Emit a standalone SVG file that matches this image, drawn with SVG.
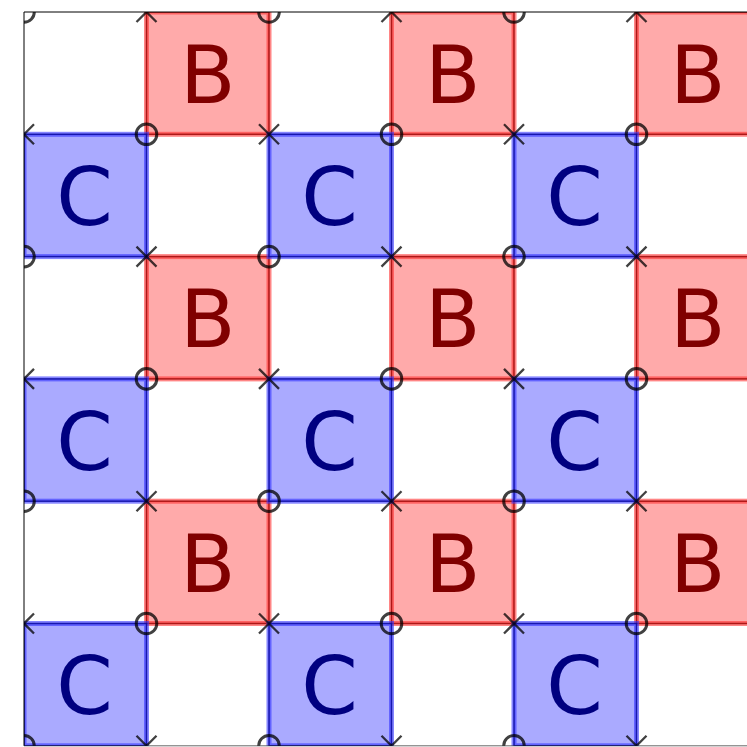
<svg xmlns="http://www.w3.org/2000/svg" xmlns:xlink="http://www.w3.org/1999/xlink" width="747" height="747" viewBox="0 0 747 747">
<style>
.b rect{fill:#ffaaaa}
.c rect{fill:#aaaaff}
.b .band{fill:none;stroke:#ff3333;stroke-opacity:0.6;stroke-width:5}
.c .band{fill:none;stroke:#3333ff;stroke-opacity:0.6;stroke-width:5}
.b .core{fill:none;stroke:#990000;stroke-opacity:0.8;stroke-width:1.5}
.c .core{fill:none;stroke:#000099;stroke-opacity:0.8;stroke-width:1.5}
.b text{fill:#800000}
.c text{fill:#000080}
text{font-family:"DejaVu Sans",sans-serif;font-size:81px;text-anchor:middle}
.mk{stroke:#000;stroke-opacity:0.75;fill:none}
</style>
<defs>
<clipPath id="ax"><rect x="24" y="12" width="740" height="733.8"/></clipPath>
<g id="o"><circle cx="0" cy="0" r="10.3" class="mk" stroke-width="3"/></g>
<g id="x"><path d="M-10,-10L10,10M-10,10L10,-10" class="mk" stroke-width="2.3"/></g>
</defs>
<rect width="747" height="747" fill="#fff"/>
<g clip-path="url(#ax)">
<g id="cells">
<g id="B1" class="b"><rect x="146.5" y="12" width="122.5" height="122.3"/><rect class="band" x="146.5" y="12" width="122.5" height="122.3"/><rect class="core" x="146.5" y="12" width="122.5" height="122.3"/><text x="207.75" y="102.6">B</text></g>
<g id="B2" class="b"><rect x="391.5" y="12" width="122.5" height="122.3"/><rect class="band" x="391.5" y="12" width="122.5" height="122.3"/><rect class="core" x="391.5" y="12" width="122.5" height="122.3"/><text x="452.75" y="102.6">B</text></g>
<g id="B3" class="b"><rect x="636.5" y="12" width="122.5" height="122.3"/><rect class="band" x="636.5" y="12" width="122.5" height="122.3"/><rect class="core" x="636.5" y="12" width="122.5" height="122.3"/><text x="697.75" y="102.6">B</text></g>
<g id="B4" class="b"><rect x="146.5" y="256.6" width="122.5" height="122.3"/><rect class="band" x="146.5" y="256.6" width="122.5" height="122.3"/><rect class="core" x="146.5" y="256.6" width="122.5" height="122.3"/><text x="207.75" y="347.2">B</text></g>
<g id="B5" class="b"><rect x="391.5" y="256.6" width="122.5" height="122.3"/><rect class="band" x="391.5" y="256.6" width="122.5" height="122.3"/><rect class="core" x="391.5" y="256.6" width="122.5" height="122.3"/><text x="452.75" y="347.2">B</text></g>
<g id="B6" class="b"><rect x="636.5" y="256.6" width="122.5" height="122.3"/><rect class="band" x="636.5" y="256.6" width="122.5" height="122.3"/><rect class="core" x="636.5" y="256.6" width="122.5" height="122.3"/><text x="697.75" y="347.2">B</text></g>
<g id="B7" class="b"><rect x="146.5" y="501.2" width="122.5" height="122.3"/><rect class="band" x="146.5" y="501.2" width="122.5" height="122.3"/><rect class="core" x="146.5" y="501.2" width="122.5" height="122.3"/><text x="207.75" y="591.8">B</text></g>
<g id="B8" class="b"><rect x="391.5" y="501.2" width="122.5" height="122.3"/><rect class="band" x="391.5" y="501.2" width="122.5" height="122.3"/><rect class="core" x="391.5" y="501.2" width="122.5" height="122.3"/><text x="452.75" y="591.8">B</text></g>
<g id="B9" class="b"><rect x="636.5" y="501.2" width="122.5" height="122.3"/><rect class="band" x="636.5" y="501.2" width="122.5" height="122.3"/><rect class="core" x="636.5" y="501.2" width="122.5" height="122.3"/><text x="697.75" y="591.8">B</text></g>
<g id="C1" class="c"><rect x="24" y="134.3" width="122.5" height="122.3"/><rect class="band" x="24" y="134.3" width="122.5" height="122.3"/><rect class="core" x="24" y="134.3" width="122.5" height="122.3"/><text x="84.5" y="225">C</text></g>
<g id="C2" class="c"><rect x="269" y="134.3" width="122.5" height="122.3"/><rect class="band" x="269" y="134.3" width="122.5" height="122.3"/><rect class="core" x="269" y="134.3" width="122.5" height="122.3"/><text x="329.5" y="225">C</text></g>
<g id="C3" class="c"><rect x="514" y="134.3" width="122.5" height="122.3"/><rect class="band" x="514" y="134.3" width="122.5" height="122.3"/><rect class="core" x="514" y="134.3" width="122.5" height="122.3"/><text x="574.5" y="225">C</text></g>
<g id="C4" class="c"><rect x="24" y="378.9" width="122.5" height="122.3"/><rect class="band" x="24" y="378.9" width="122.5" height="122.3"/><rect class="core" x="24" y="378.9" width="122.5" height="122.3"/><text x="84.5" y="469.6">C</text></g>
<g id="C5" class="c"><rect x="269" y="378.9" width="122.5" height="122.3"/><rect class="band" x="269" y="378.9" width="122.5" height="122.3"/><rect class="core" x="269" y="378.9" width="122.5" height="122.3"/><text x="329.5" y="469.6">C</text></g>
<g id="C6" class="c"><rect x="514" y="378.9" width="122.5" height="122.3"/><rect class="band" x="514" y="378.9" width="122.5" height="122.3"/><rect class="core" x="514" y="378.9" width="122.5" height="122.3"/><text x="574.5" y="469.6">C</text></g>
<g id="C7" class="c"><rect x="24" y="623.5" width="122.5" height="122.3"/><rect class="band" x="24" y="623.5" width="122.5" height="122.3"/><rect class="core" x="24" y="623.5" width="122.5" height="122.3"/><text x="84.5" y="714.2">C</text></g>
<g id="C8" class="c"><rect x="269" y="623.5" width="122.5" height="122.3"/><rect class="band" x="269" y="623.5" width="122.5" height="122.3"/><rect class="core" x="269" y="623.5" width="122.5" height="122.3"/><text x="329.5" y="714.2">C</text></g>
<g id="C9" class="c"><rect x="514" y="623.5" width="122.5" height="122.3"/><rect class="band" x="514" y="623.5" width="122.5" height="122.3"/><rect class="core" x="514" y="623.5" width="122.5" height="122.3"/><text x="574.5" y="714.2">C</text></g>
</g>
<g id="markers">
<use href="#o" x="24" y="12"/><use href="#x" x="146.5" y="12"/><use href="#o" x="269" y="12"/><use href="#x" x="391.5" y="12"/><use href="#o" x="514" y="12"/><use href="#x" x="636.5" y="12"/><use href="#o" x="759" y="12"/>
<use href="#x" x="24" y="134.3"/><use href="#o" x="146.5" y="134.3"/><use href="#x" x="269" y="134.3"/><use href="#o" x="391.5" y="134.3"/><use href="#x" x="514" y="134.3"/><use href="#o" x="636.5" y="134.3"/><use href="#x" x="759" y="134.3"/>
<use href="#o" x="24" y="256.6"/><use href="#x" x="146.5" y="256.6"/><use href="#o" x="269" y="256.6"/><use href="#x" x="391.5" y="256.6"/><use href="#o" x="514" y="256.6"/><use href="#x" x="636.5" y="256.6"/><use href="#o" x="759" y="256.6"/>
<use href="#x" x="24" y="378.9"/><use href="#o" x="146.5" y="378.9"/><use href="#x" x="269" y="378.9"/><use href="#o" x="391.5" y="378.9"/><use href="#x" x="514" y="378.9"/><use href="#o" x="636.5" y="378.9"/><use href="#x" x="759" y="378.9"/>
<use href="#o" x="24" y="501.2"/><use href="#x" x="146.5" y="501.2"/><use href="#o" x="269" y="501.2"/><use href="#x" x="391.5" y="501.2"/><use href="#o" x="514" y="501.2"/><use href="#x" x="636.5" y="501.2"/><use href="#o" x="759" y="501.2"/>
<use href="#x" x="24" y="623.5"/><use href="#o" x="146.5" y="623.5"/><use href="#x" x="269" y="623.5"/><use href="#o" x="391.5" y="623.5"/><use href="#x" x="514" y="623.5"/><use href="#o" x="636.5" y="623.5"/><use href="#x" x="759" y="623.5"/>
<use href="#o" x="24" y="745.8"/><use href="#x" x="146.5" y="745.8"/><use href="#o" x="269" y="745.8"/><use href="#x" x="391.5" y="745.8"/><use href="#o" x="514" y="745.8"/><use href="#x" x="636.5" y="745.8"/><use href="#o" x="759" y="745.8"/>
</g>
</g>
<g id="axes" fill="none" stroke="#000" stroke-width="1">
<path d="M24,745.8V12H760"/>
<path d="M24,745.8H760" stroke-opacity="0.6"/>
</g>
</svg>
